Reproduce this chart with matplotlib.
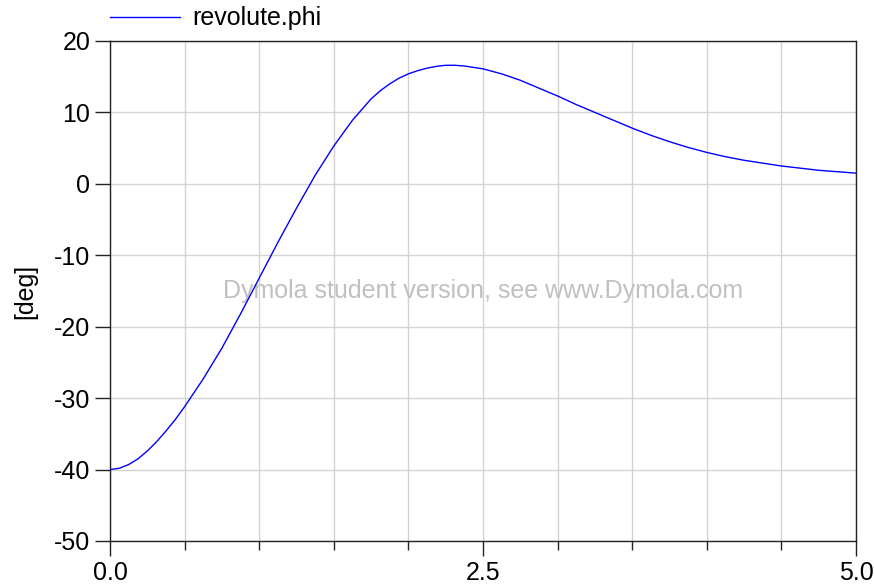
import matplotlib
matplotlib.use("Agg")
import matplotlib.pyplot as plt
from matplotlib.lines import Line2D

plt.rcParams['font.family'] = ['Liberation Sans', 'DejaVu Sans']

# data
time = [0.0, 0.0625, 0.125, 0.1875, 0.25, 0.3125, 0.375, 0.4375, 0.5, 0.625,
        0.75, 0.875, 1.0, 1.125, 1.25, 1.375, 1.5, 1.625, 1.75, 1.8125,
        1.875, 1.9375, 2.0, 2.0625, 2.125, 2.1875, 2.25, 2.3125, 2.375, 2.5,
        2.625, 2.75, 2.875, 3.0, 3.125, 3.25, 3.375, 3.5, 3.625, 3.75,
        3.875, 4.0, 4.125, 4.25, 4.375, 4.5, 4.625, 4.75, 4.875, 5.0]
phi = [-40.0, -39.82, -39.3, -38.5, -37.4, -36.1, -34.6, -33.0, -31.2, -27.3,
       -23.0, -18.2, -13.2, -8.2, -3.4, 1.2, 5.3, 8.9, 11.9, 13.05,
       14.0, 14.8, 15.4, 15.85, 16.2, 16.45, 16.6, 16.6, 16.5, 16.1,
       15.4, 14.5, 13.4, 12.3, 11.1, 10.0, 8.9, 7.8, 6.8, 5.9,
       5.1, 4.4, 3.8, 3.3, 2.9, 2.5, 2.2, 1.9, 1.7, 1.5]

x_major = [0.0, 2.5, 5.0]
x_major_labels = ["0.0", "2.5", "5.0"]
x_minor = [0.5, 1.0, 1.5, 2.0, 3.0, 3.5, 4.0, 4.5]
y_ticks = [-50, -40, -30, -20, -10, 0, 10, 20]
y_labels = ["-50", "-40", "-30", "-20", "-10", "0", "10", "20"]
series_name = "revolute.phi"
y_unit = "[deg]"
watermark = "Dymola student version, see www.Dymola.com"

FS = 18
W, H = 874, 586
fig = plt.figure(figsize=(W / 100, H / 100), dpi=100)
ax = fig.add_axes([110 / W, 1 - 541 / H, (856 - 110) / W, (541 - 41) / H])

ax.plot(time, phi, color=(0, 0, 1), lw=1.0, zorder=3)

ax.set_xlim(0, 5)
ax.set_ylim(-50, 20)
ax.set_xticks(x_major)
ax.set_xticklabels(x_major_labels)
ax.set_xticks(x_minor, minor=True)
ax.set_yticks(y_ticks)
ax.set_yticklabels(y_labels)

ax.grid(True, which='both', color='#d3d3d3', lw=1.0, zorder=0)
ax.set_axisbelow(True)

ax.tick_params(axis='x', which='major', direction='out', length=10.8, width=1.0,
               color='#222222', labelsize=FS, pad=3.5)
ax.tick_params(axis='x', which='minor', direction='out', length=6.5, width=1.0,
               color='#222222')
ax.tick_params(axis='y', which='major', direction='out', length=10.8, width=1.0,
               color='#222222', labelsize=FS, pad=3.5)

for s in ax.spines.values():
    s.set_color('#222222')
    s.set_linewidth(1.0)

ax.set_ylabel(y_unit, fontsize=FS, labelpad=12)

ax.text(0.5, 0.5, watermark, transform=ax.transAxes, ha='center', va='center',
        fontsize=FS, color='#c0c0c0', zorder=2)

# legend above the plot
fig.add_artist(Line2D([110 / W, 180 / W], [1 - 17 / H, 1 - 17 / H],
                      color=(0, 0, 1), lw=1.0))
fig.text(192 / W, 1 - 18 / H, series_name, fontsize=FS, va='center', ha='left')

fig.savefig("out.png", dpi=100)
